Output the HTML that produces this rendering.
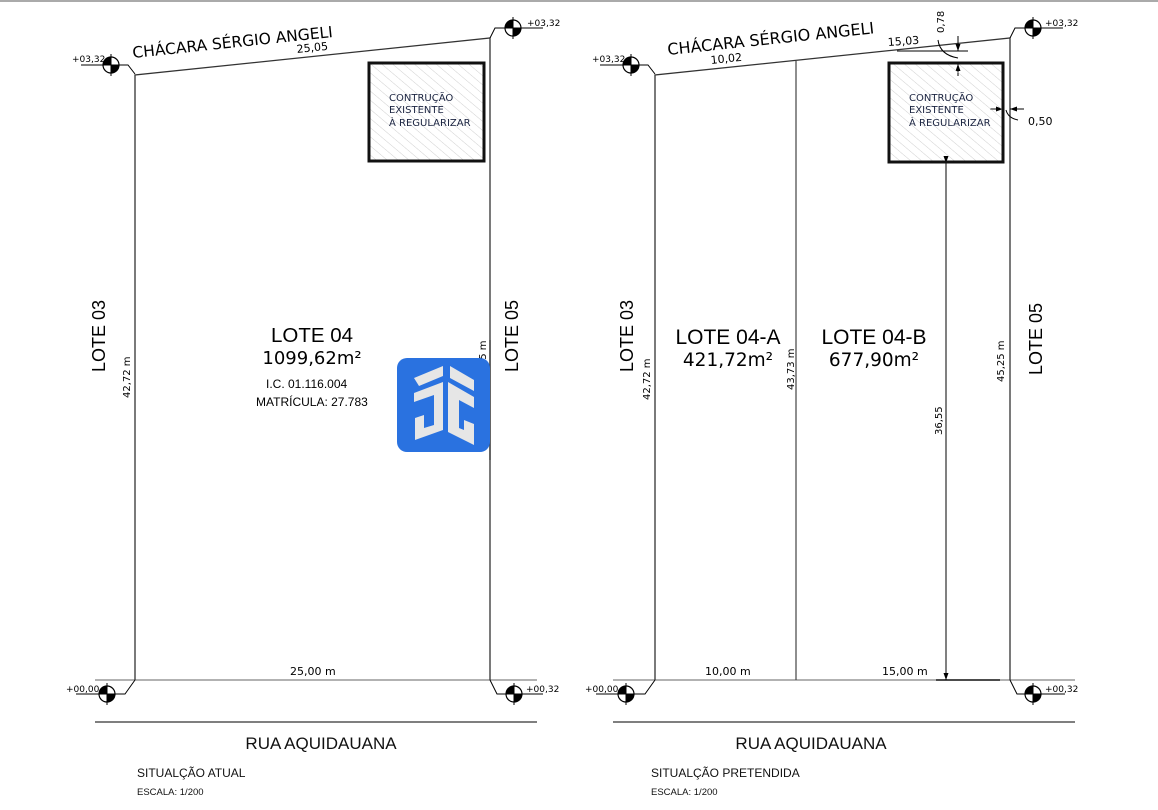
<!DOCTYPE html>
<html><head><meta charset="utf-8"><style>
html,body{margin:0;padding:0;background:#fff;}
svg{display:block;font-family:"DejaVu Sans","Liberation Sans",sans-serif;}
.a{font-family:"Liberation Sans",sans-serif;}
</style></head><body>
<svg width="1158" height="810" viewBox="0 0 1158 810" xmlns="http://www.w3.org/2000/svg">
<defs>
<pattern id="h" width="7" height="7" patternUnits="userSpaceOnUse" patternTransform="rotate(-50)">
<line x1="0" y1="0" x2="0" y2="7" stroke="#c4c4c4" stroke-width="0.8"/>
</pattern>
<g id="mk">
<circle r="8" fill="#fff" stroke="#000" stroke-width="1.2"/>
<path d="M0,0 L-8,0 A8,8 0 0 1 0,-8 Z" fill="#000"/>
<path d="M0,0 L8,0 A8,8 0 0 1 0,8 Z" fill="#000"/>
<line x1="0" y1="-11" x2="0" y2="11" stroke="#000"/>
<line x1="-11" y1="0" x2="11" y2="0" stroke="#000"/>
</g>
<marker id="ar" markerWidth="8" markerHeight="8" refX="7" refY="4" orient="auto" markerUnits="userSpaceOnUse"><path d="M0,1.5 L7,4 L0,6.5Z" fill="#000"/></marker>
</defs>
<line x1="0" y1="1" x2="1158" y2="1" stroke="#aaa" stroke-width="2"/>

<!-- LEFT PLAN -->
<g fill="none">
<line x1="95" y1="680" x2="537" y2="680" stroke="#999" stroke-width="1.5"/>
<polyline points="135,680 135,75 490,38 490,680" stroke="#333" stroke-width="1.3"/>
<polyline points="81,65 128,65 135,74" stroke="#000"/>
<polyline points="490,38 495,28 543,28" stroke="#000"/>
<polyline points="135,680 125,694 76,694" stroke="#000"/>
<polyline points="490,680 497,694 543,694" stroke="#000"/>
<line x1="95" y1="722" x2="537" y2="722" stroke="#333" stroke-width="1.3"/>
</g>
<use href="#mk" x="111" y="65"/><use href="#mk" x="513" y="28"/>
<use href="#mk" x="107" y="694"/><use href="#mk" x="514" y="694"/>
<rect x="369" y="63" width="115" height="98" fill="url(#h)" stroke="#111" stroke-width="3"/>
<g font-size="10" fill="#1a2340"><text x="389" y="101">CONTRUÇÃO</text><text x="389" y="113">EXISTENTE</text><text x="389" y="126">À REGULARIZAR</text></g>
<g font-size="9" fill="#000"><text x="72" y="62">+03,32</text><text x="527" y="26">+03,32</text><text x="66" y="692">+00,00</text><text x="526" y="692">+00,32</text></g>
<text x="133" y="58" font-size="15.5" transform="rotate(-6 133 58)">CHÁCARA SÉRGIO ANGELI</text>
<text x="297" y="53" font-size="11" transform="rotate(-6 297 53)">25,05</text>
<text x="290" y="675" font-size="11">25,00 m</text>
<text class="a" font-size="18" transform="translate(105,372) rotate(-90)">LOTE 03</text>
<text class="a" font-size="18" transform="translate(518,372) rotate(-90)">LOTE 05</text>
<text font-size="10" transform="translate(130,398) rotate(-90)">42,72 m</text>
<text font-size="10" transform="translate(486,382) rotate(-90)">45,25 m</text>
<text class="a" x="312" y="342" font-size="20.5" text-anchor="middle">LOTE 04</text>
<text x="312" y="364" font-size="18" text-anchor="middle">1099,62m²</text>
<text class="a" x="266" y="388" font-size="12">I.C.  01.116.004</text>
<text class="a" x="256" y="406" font-size="12">MATRÍCULA: 27.783</text>
<line x1="490" y1="340" x2="490" y2="460" stroke="#333" stroke-width="1.3"/>
<rect x="397" y="358" width="93" height="94" rx="10" fill="#2a72e0"/>
<g fill="#e6e6e6">
<path d="M414,378 L443,366 L443,376 L419,386 Z"/>
<path d="M450,366 L474,380 L474,391 L450,378 Z"/>
<path d="M414,393 L443,382 L443,430 L415,440 L415,418 L424,415 L424,428 L434,425 L434,395 L414,402 Z"/>
<path d="M448,382 L474,397 L474,408 L459,400 L459,428 L464,430 L464,420 L474,424 L474,445 L448,432 Z"/>
</g>
<g class="a" fill="#111">
<text x="321" y="749" font-size="17" text-anchor="middle">RUA AQUIDAUANA</text>
<text x="137" y="777" font-size="12">SITUALÇÃO ATUAL</text>
<text x="137" y="795" font-size="9.5">ESCALA: 1/200</text>
</g>

<!-- RIGHT PLAN -->
<g fill="none">
<line x1="613" y1="680" x2="1075" y2="680" stroke="#999" stroke-width="1.5"/>
<polyline points="655,680 655,75 1010,38 1010,680" stroke="#333" stroke-width="1.3"/>
<line x1="796" y1="61" x2="796" y2="680" stroke="#444" stroke-width="1.2"/>
<line x1="936" y1="680" x2="1000" y2="680" stroke="#222" stroke-width="1.5"/>
<polyline points="600,65 648,65 655,74" stroke="#000"/>
<polyline points="1010,38 1015,28 1063,28" stroke="#000"/>
<polyline points="655,680 645,694 596,694" stroke="#000"/>
<polyline points="1010,680 1017,694 1065,694" stroke="#000"/>
<line x1="613" y1="722" x2="1075" y2="722" stroke="#333" stroke-width="1.3"/>
<line x1="946" y1="163" x2="946" y2="680" stroke="#000" marker-end="url(#ar)" marker-start="url(#ar)"/>
<line x1="958" y1="76" x2="958" y2="64" stroke="#000" marker-end="url(#ar)"/>
<line x1="958" y1="36" x2="958" y2="51" stroke="#000" marker-end="url(#ar)"/>
<line x1="897" y1="51" x2="968" y2="51" stroke="#000"/>
<path d="M938,40 Q940,55 958,58" stroke="#000"/>
<line x1="990" y1="109" x2="1003" y2="109" stroke="#000" marker-end="url(#ar)"/>
<line x1="1024" y1="109" x2="1010" y2="109" stroke="#000" marker-end="url(#ar)"/>
<path d="M1006,110 Q1008,118 1018,120" stroke="#000"/>
</g>
<use href="#mk" x="631" y="65"/><use href="#mk" x="1033" y="28"/>
<use href="#mk" x="626" y="694"/><use href="#mk" x="1033" y="694"/>
<rect x="889" y="63" width="114" height="99" fill="url(#h)" stroke="#111" stroke-width="3"/>
<g font-size="10" fill="#1a2340"><text x="909" y="101">CONTRUÇÃO</text><text x="909" y="113">EXISTENTE</text><text x="909" y="126">À REGULARIZAR</text></g>
<g font-size="9" fill="#000"><text x="592" y="62">+03,32</text><text x="1045" y="26">+03,32</text><text x="585" y="692">+00,00</text><text x="1045" y="692">+00,32</text></g>
<text x="668" y="55" font-size="16" transform="rotate(-6 668 55)">CHÁCARA SÉRGIO ANGELI</text>
<text x="711" y="64" font-size="11" transform="rotate(-6 711 64)">10,02</text>
<text x="888" y="46" font-size="11" transform="rotate(-4 888 46)">15,03</text>
<text font-size="10" transform="translate(944,33) rotate(-90)">0,78</text>
<text x="1028" y="125" font-size="11">0,50</text>
<text x="705" y="675" font-size="11">10,00 m</text>
<text x="882" y="675" font-size="11">15,00 m</text>
<text class="a" font-size="18" transform="translate(633,372) rotate(-90)">LOTE 03</text>
<text class="a" font-size="18" transform="translate(1042,375) rotate(-90)">LOTE 05</text>
<text font-size="10" transform="translate(650,400) rotate(-90)">42,72 m</text>
<text font-size="10" transform="translate(794,390) rotate(-90)">43,73 m</text>
<text font-size="10" transform="translate(1004,382) rotate(-90)">45,25 m</text>
<text font-size="10" transform="translate(942,435) rotate(-90)">36,55</text>
<text class="a" x="728" y="344" font-size="21" text-anchor="middle">LOTE 04-A</text>
<text x="728" y="366" font-size="18.5" text-anchor="middle">421,72m²</text>
<text class="a" x="874" y="344" font-size="21" text-anchor="middle">LOTE 04-B</text>
<text x="874" y="366" font-size="18.5" text-anchor="middle">677,90m²</text>
<g class="a" fill="#111">
<text x="811" y="749" font-size="17" text-anchor="middle">RUA AQUIDAUANA</text>
<text x="651" y="777" font-size="12">SITUALÇÃO PRETENDIDA</text>
<text x="651" y="795" font-size="9.5">ESCALA: 1/200</text>
</g>
</svg>
</body></html>
